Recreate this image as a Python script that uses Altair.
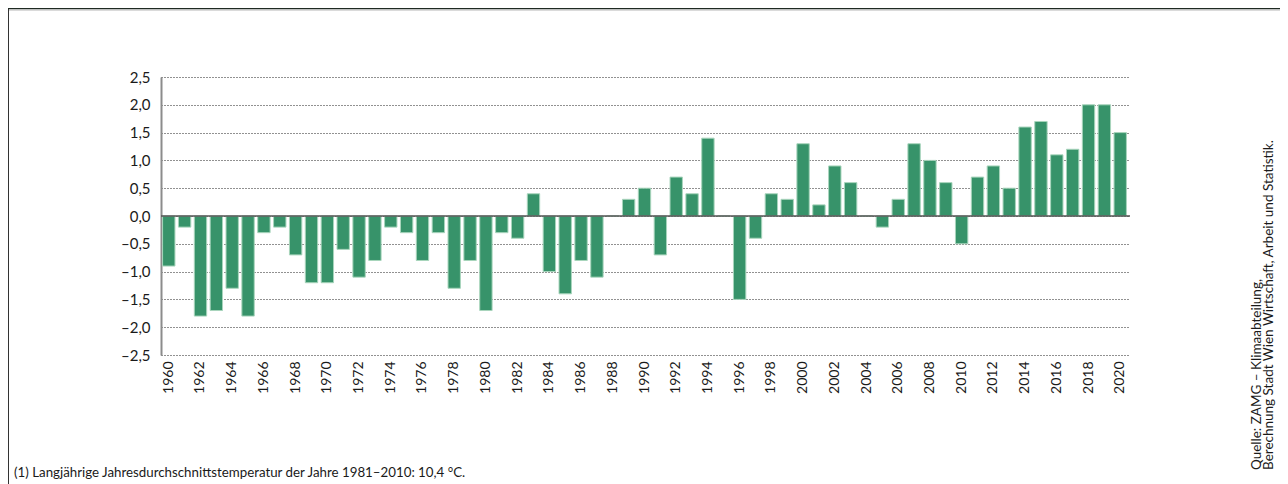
import altair as alt
import pandas as pd

# ---- data ----
years = list(range(1960, 2021))
anomalies = [
    -0.9, -0.2, -1.8, -1.7, -1.3, -1.8, -0.3, -0.2, -0.7, -1.2,   # 1960-1969
    -1.2, -0.6, -1.1, -0.8, -0.2, -0.3, -0.8, -0.3, -1.3, -0.8,   # 1970-1979
    -1.7, -0.3, -0.4, 0.4, -1.0, -1.4, -0.8, -1.1, 0.0, 0.3,      # 1980-1989
    0.5, -0.7, 0.7, 0.4, 1.4, 0.0, -1.5, -0.4, 0.4, 0.3,          # 1990-1999
    1.3, 0.2, 0.9, 0.6, 0.0, -0.2, 0.3, 1.3, 1.0, 0.6,            # 2000-2009
    -0.5, 0.7, 0.9, 0.5, 1.6, 1.7, 1.1, 1.2, 2.0, 2.0,            # 2010-2019
    1.5,                                                          # 2020
]
label_years = [1960, 1962, 1964, 1966, 1968, 1970, 1972, 1974, 1976, 1978,
               1980, 1982, 1984, 1986, 1988, 1990, 1992, 1994, 1996, 1998,
               2000, 2002, 2004, 2006, 2008, 2010, 2012, 2014, 2016, 2018, 2020]
y_ticks = [-2.5, -2.0, -1.5, -1.0, -0.5, 0.0, 0.5, 1.0, 1.5, 2.0, 2.5]
footnote = "(1) Langjährige Jahresdurchschnittstemperatur der Jahre 1981–2010: 10,4 °C."
source_text = "Quelle: ZAMG – Klimaabteilung,\nBerechnung Stadt Wien Wirtschaft, Arbeit und Statistik."

df = pd.DataFrame({"Jahr": years, "Abweichung": anomalies})

W, H = 967, 278
PAD = {"left": 153, "top": 69, "right": 152, "bottom": 130}
FONT = "Lato"
TXT = "#1a1a1a"

y_axis = alt.Axis(
    values=y_ticks,
    labelExpr="(datum.value < 0 ? '–' : '') + replace(format(abs(datum.value), '.1f'), '.', ',')",
    grid=True, gridDash=[1, 2], gridColor="#222222", gridWidth=1,
    ticks=False, domainColor="#8c8c8c", domainWidth=2,
    labelPadding=11, title=None, labelFontSize=15, labelColor=TXT,
    labelFont=FONT, labelOverlap=False, labelFlush=False,
)
y_scale = alt.Scale(domain=[-2.5, 2.5], nice=False, zero=False)

bars = alt.Chart(df).mark_bar(
    color="#37936A", stroke="#A8D5BC", strokeWidth=1
).encode(
    x=alt.X(
        "Jahr:O",
        scale=alt.Scale(paddingInner=0.22, paddingOuter=0.1),
        axis=alt.Axis(
            values=label_years, labelAngle=270, ticks=False, domain=False,
            title=None, labelFontSize=14, labelPadding=6, labelColor=TXT,
            labelFont=FONT, grid=False, labelOverlap=False,
        ),
    ),
    y=alt.Y("Abweichung:Q", scale=y_scale, axis=y_axis),
)

zero_line = alt.Chart(pd.DataFrame({"v": [0.0]})).mark_rule(
    color="#555555", strokeWidth=1.5
).encode(
    y=alt.Y("v:Q", scale=y_scale, axis=y_axis),
    x=alt.value(0), x2=alt.value(W + 2),
)

foot = alt.Chart(pd.DataFrame({"t": [footnote]})).mark_text(
    align="left", baseline="alphabetic", fontSize=13.3, font=FONT, color=TXT
).encode(text="t:N", x=alt.value(-147), y=alt.value(400))

source = alt.Chart(pd.DataFrame({"t": [source_text]})).mark_text(
    align="left", baseline="alphabetic", fontSize=13.5, font=FONT, color=TXT,
    angle=270, lineBreak="\n", lineHeight=12,
).encode(text="t:N", x=alt.value(1100), y=alt.value(393))

top_dark = alt.Chart(pd.DataFrame({"a": [1]})).mark_rule(
    color="#1f2a22", strokeWidth=1.5
).encode(x=alt.value(-153), x2=alt.value(1119), y=alt.value(-68.5))

top_gray = alt.Chart(pd.DataFrame({"a": [1]})).mark_rule(
    color="#b5b5b5", strokeWidth=1
).encode(x=alt.value(-153), x2=alt.value(1119), y=alt.value(-67))

left_border = alt.Chart(pd.DataFrame({"a": [1]})).mark_rule(
    color="#333333", strokeWidth=1
).encode(x=alt.value(-152.5), y=alt.value(-68), y2=alt.value(410))

chart = alt.layer(
    bars, zero_line, foot, source, top_dark, top_gray, left_border
).properties(
    width=W, height=H, padding=PAD,
    autosize=alt.AutoSizeParams(type="none"),
    background="white",
).configure_view(stroke=None)

chart.save("out.html", embed_options={"renderer": "svg", "actions": False})
